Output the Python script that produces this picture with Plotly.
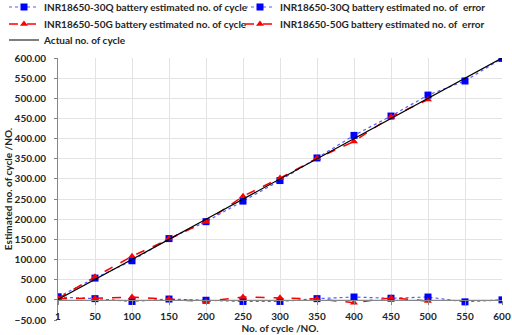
import plotly.graph_objects as go

categories = ['1', '50', '100', '150', '200', '250', '300', '350', '400', '450', '500', '550', '600']
est_30q = [7, 54, 97, 152, 194, 245, 296, 352, 408, 456, 508, 543, 599]
err_30q = [7, 3, -4, 2, -1, -4, -4, 3, 7, 4, 7, -5, 0]
cat_50g = categories[:11]
est_50g = [3, 57, 108, 152, 194, 257, 302, 351, 393, 454, 497]
err_50g = [3, 4, 7, 2, -4, 7, 5, 2, -7, 5, -3]
actual = [1, 50, 100, 150, 200, 250, 300, 350, 400, 450, 500, 550, 600]

FONT = "Lato"
TXT = "#262626"
FS = 10
L, R, T, B = 58, 10, 58, 15
PW, PH = 512 - L - R, 335 - T - B

fig = go.Figure()
fig.add_trace(go.Scatter(
    x=categories, y=est_30q, mode="lines+markers", legend="legend", showlegend=True,
    name="INR18650-30Q battery estimated no. of cycle",
    line=dict(color="#5B5BFF", width=1.2, dash="dot"),
    marker=dict(symbol="square", size=7, color="#0000FF")))
fig.add_trace(go.Scatter(
    x=categories, y=err_30q, mode="lines+markers", legend="legend2", showlegend=True,
    name="INR18650-30Q battery estimated no. of  error",
    line=dict(color="#5B5BFF", width=1.2, dash="dot"),
    marker=dict(symbol="square", size=7, color="#0000FF")))
fig.add_trace(go.Scatter(
    x=cat_50g, y=est_50g, mode="lines+markers", legend="legend3", showlegend=True,
    name="INR18650-50G battery estimated no. of cycle",
    line=dict(color="#FF0000", width=1.5, dash="dash"),
    marker=dict(symbol="triangle-up", size=7, color="#FF0000")))
fig.add_trace(go.Scatter(
    x=cat_50g, y=err_50g, mode="lines+markers", legend="legend4", showlegend=True,
    name="INR18650-50G battery estimated no. of  error",
    line=dict(color="#FF0000", width=1.5, dash="dash"),
    marker=dict(symbol="triangle-up", size=7, color="#FF0000")))
fig.add_trace(go.Scatter(
    x=categories, y=actual, mode="lines", legend="legend5", showlegend=True,
    name="Actual no. of cycle",
    line=dict(color="#000000", width=1.2)))


def leg(px_x, px_y):
    return dict(
        visible=True,
        orientation="v", xanchor="left", yanchor="middle",
        x=(px_x - L) / PW, y=1 + (T - px_y) / PH,
        font=dict(family=FONT, size=10, color=TXT, weight="bold"),
        bgcolor="rgba(0,0,0,0)", tracegroupgap=0,
    )


fig.update_layout(
    width=512, height=335,
    showlegend=True,
    margin=dict(l=L, r=R, t=T, b=B, autoexpand=False),
    paper_bgcolor="white", plot_bgcolor="white",
    font=dict(family=FONT, color=TXT, size=FS),
    legend=leg(4, 7),
    legend2=leg(240, 7),
    legend3=leg(4, 24),
    legend4=leg(240, 24),
    legend5=leg(4, 40),
    xaxis=dict(
        type="category", categoryorder="array", categoryarray=categories,
        range=[0, 12], anchor="free", position=50 / 650,
        showline=True, linecolor="#868686", linewidth=1,
        ticks="outside", ticklen=4, tickcolor="#868686",
        ticklabelstandoff=3,
        showgrid=True, gridcolor="#E3E3E3", gridwidth=1,
        tickfont=dict(family=FONT, size=FS, color=TXT, weight="bold"),
        title=dict(text="No. of cycle /NO.", standoff=1,
                   font=dict(family=FONT, size=FS, color=TXT, weight="bold")),
        zeroline=False, automargin=False,
    ),
    yaxis=dict(
        range=[-50, 600], dtick=50, tick0=0, tickformat=".2f",
        showline=True, linecolor="#868686", linewidth=1,
        ticks="outside", ticklen=3, tickcolor="#868686",
        ticklabelstandoff=6,
        showgrid=True, gridcolor="#E3E3E3", gridwidth=1,
        zeroline=False, automargin=False,
        tickfont=dict(family=FONT, size=FS, color=TXT, weight="bold"),
        title=dict(text="Estimated no. of cycle /NO.", standoff=0,
                   font=dict(family=FONT, size=FS, color=TXT, weight="bold")),
    ),
)

fig.write_html("out.html", config={"displayModeBar": False},
               post_script="document.body.style.margin='0';")
